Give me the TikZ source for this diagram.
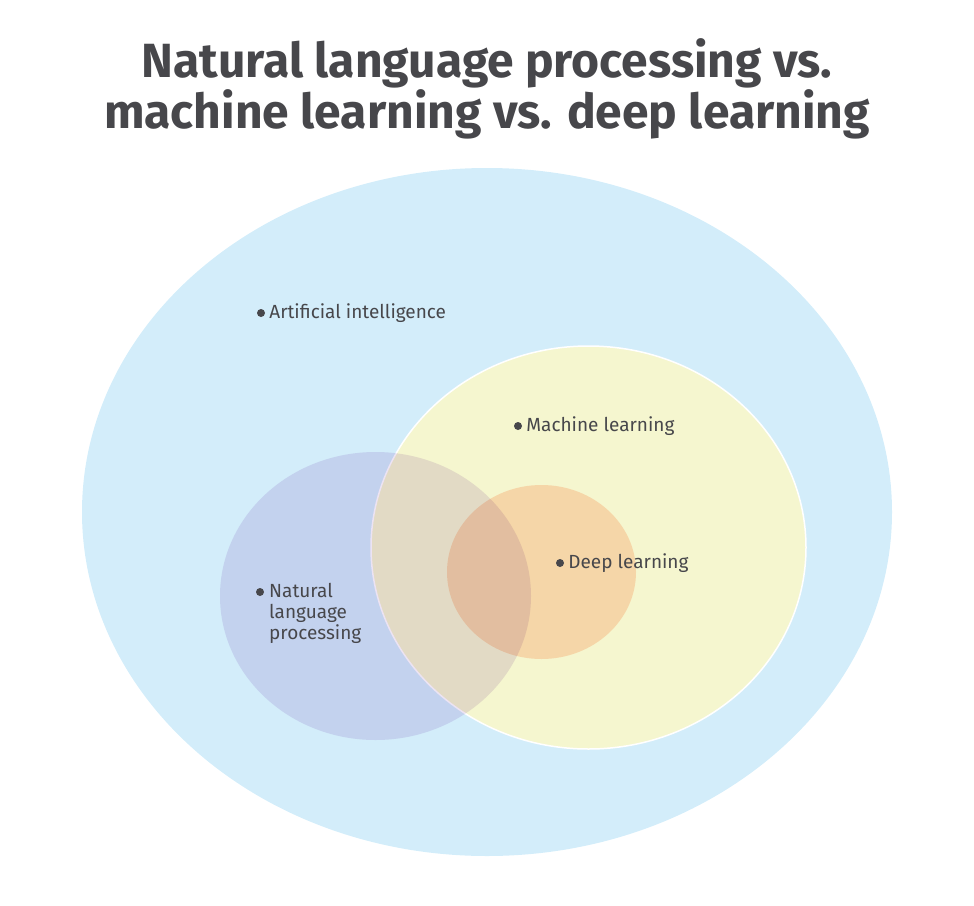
\documentclass[tikz,border=0pt]{standalone}
\usepackage{fontspec}
\setmainfont{Fira Sans}
\usepackage{tikz}
\usetikzlibrary{positioning}
\definecolor{aiblue}{HTML}{D3EDFA}
\definecolor{mlyellow}{HTML}{F5F6CF}
\definecolor{dlorange}{HTML}{F5D6A8}
\definecolor{nlpblue}{HTML}{ECE3F3}
\definecolor{inkgray}{HTML}{47474B}
\tikzset{
  dot/.style={circle, fill=inkgray, inner sep=0pt, minimum size=8pt},
  lbl/.style={text=inkgray, font=\fontsize{19}{21}\selectfont, inner sep=0pt},
  heading/.style={text=inkgray, align=center, font=\fontsize{48}{49}\selectfont\bfseries}
}

\begin{document}
\begin{tikzpicture}[x=1pt, y=-1pt]
    \useasboundingbox (0,0) rectangle (974,905);
    % title
    \node[heading] (title) at (487,89) {Natural language processing vs.\\
      machine learning vs. deep learning};
    % sets
    \fill[aiblue] (487,512) ellipse [x radius=405, y radius=344];
    \filldraw[mlyellow, draw=white, line width=1.5pt] (588.5,547.5) ellipse [x radius=217.5, y radius=201.5];
    \fill[dlorange] (541.5,572) ellipse [x radius=94.5, y radius=87];
    \fill[nlpblue, blend mode=multiply] (375.5,596) ellipse [x radius=155.5, y radius=144];
    % labels
    \node[dot] (aidot) at (261,313) {};
    \node[lbl, right=4pt of aidot] (ai) {Artificial intelligence};
    \node[dot] (mldot) at (518,426) {};
    \node[lbl, right=4pt of mldot] (ml) {Machine learning};
    \node[dot] (dldot) at (560,563) {};
    \node[lbl, right=4pt of dldot] (dl) {Deep learning};
    \node[dot] (nlpdot) at (260,592) {};
    \node[lbl, align=left, anchor=north west] (nlp) at (269,583) {Natural\\language\\processing};
  \end{tikzpicture}
\end{document}
